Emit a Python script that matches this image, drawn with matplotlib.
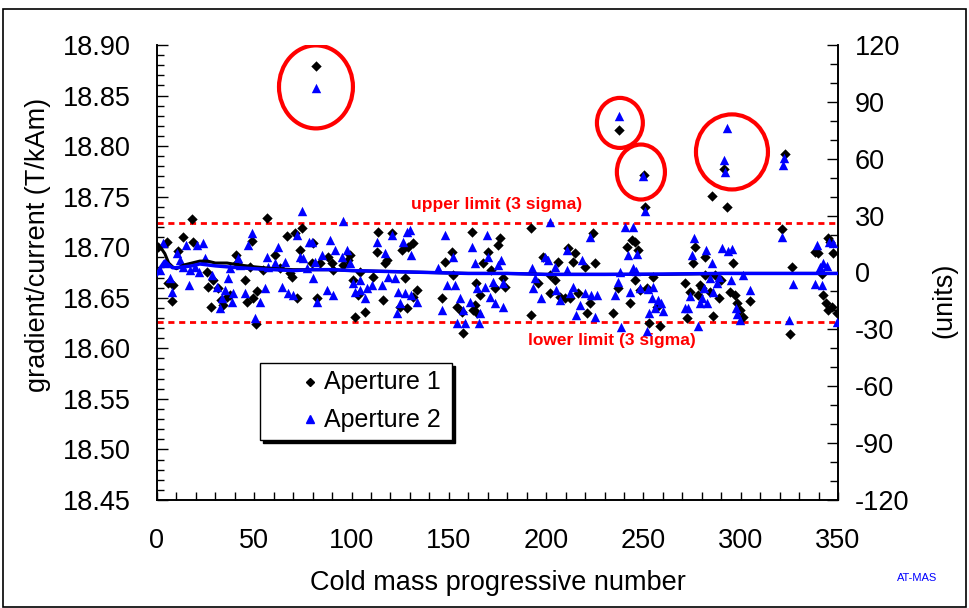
import matplotlib
matplotlib.use("Agg")
import matplotlib.pyplot as plt
from matplotlib.patches import Ellipse, Rectangle
from matplotlib.lines import Line2D

plt.rcParams['font.family'] = ['Liberation Sans', 'DejaVu Sans']
plt.rcParams['axes.unicode_minus'] = False

# ---- data (right-axis units) ----
x1 = [0.7, 5, 17.8, 13.5, 18.7, 11, 5.8, 8.4, 7.5, 25.5, 26.4, 27.7, 29, 31.5, 32.7, 33.7, 35.8, 37.5,
      40.6, 41.3, 45.2, 46.1, 47.8, 48.6, 51.2, 50.9, 49.5, 54.6, 56.7, 60.6, 63.2, 66.6, 68.3, 69.2,
      71.8, 73.5, 74.3, 70.9, 79.5, 82,
      80.3, 83.7, 88, 89.7, 90.6, 95.7, 98.3, 99.2, 104.3, 100.5, 103.4, 106.9, 101.7, 111.1, 112.9,
      113.7, 117.1, 116.3, 118, 120.6, 124.9, 125.7, 128.3, 127.4, 129.1, 131.7, 133.4, 131.7, 146.3,
      148, 151.4, 152.3, 154, 156.5, 157.4, 161.7, 162.5, 164.3,
      164.2, 165.9, 163.4, 167.7, 170.2, 171.9, 173.6, 175.4, 176.2, 177.9, 178.8, 192.1, 192.1, 195.9,
      198.5, 201.9, 201.9, 204.5, 206.2, 207, 209.6, 211.3, 212.2, 213.9, 214.8, 216.5, 219.9, 220.8,
      222.5, 224.2, 225, 234.5, 237, 241.3, 243, 243.9, 245.6, 245.6, 247.3,
      248.2, 250.8, 251.7, 253, 254.7, 258.5, 256.8, 285, 292.8, 271.4, 272.2, 274, 275.6, 276.5,
      278.2, 279, 280, 281.6, 281.6, 284.2, 285.6, 286.8, 289, 289.7, 294.5, 295.9, 297.1, 298, 299.6,
      301.3, 304.8, 321, 326.5, 325.3, 338.2, 339.9, 341.6, 342.1, 343.8, 345, 345.9, 345, 346.7,
      347.6, 349.6,
      81.7, 237.4, 250.3, 291.4, 322.7]
u1 = [13.6, 16.3, 28, 18.6, 16.1, 11.5, -5.7, -6.6, -15, 0.5, -7.5, -18, -3.9, -8.3, -14.5, -17.1, -12.7, -11.9,
      9.2, 4.8, -3.9, -15.4, 3.1, 16.6, -9.7, -27.1, -13.6, 1.3, 28.6, 9.2, 2.2, 19.3, 0, -2.2,
      -13.6, 11.9, 23.3, 20.7, 4.8, -13.6,
      15.4, 4.8, 8.4, 4.8, 1.3, 4, 6.6, 9.2, 0.5, -3.9, -11.9, -20.6, -23.3, -2.2, 11,
      21.6, 4.8, -14.5, 6.6, 20.7, -18, 11.9, -18.9, -3.1, 13.6, 15.4, -9.2, -12.7, -13.6,
      5.7, 11, -1.3, -18, -20.6, -32.1, 21.6, -19.8, -21.5,
      -5.7, -11.9, -17.1, 4.8, 11, 1.3, -8.3, 14.5, 18, -3.1, -7.5, 23.3, -22.4, -5.7,
      8.4, -1.3, -11, -3.9, 5.7, -12.7, -13.6, 12.8, -13.6, 5.7, 10.1, -11, 3.1, -21.5,
      -16.2, 20.7, 4.8, -21.5, -8.3, 13.6, -16.2, 17.2, 16.3, -3.9, 11.9,
      -9.2, 34.7, -8.3, -26.4, -2.5, -28.2, -18, 40.4, 34.4, -5.7, -24.2, -10.1, 4.8, 13.6,
      -11.9, -6.6, -8.3, 8.4, -1.3, -10.1, -22.9, -1.3, -13.6, -3.9, -10.1, 4.8, -11.9, -15.9, -19.8,
      -23.3, -14.8, 22.8, 3.1, -32.4, 11, 10.1, -0.8, -11.9, -16.2, 18, 16.3, -19.8, -18,
      10.1, -21.2,
      108.9, 75.1, 51.4, 54.6, 62.5]

x2 = [3.3, 1.5, 4.1, 6.7, 7.5, 10.1, 11.8, 14.9, 13.5, 16.6, 17, 19.5, 20.4, 21.8, 23.8, 24.7, 28.1, 30.7,
      33.2, 32.4, 35, 36.7, 37.5, 39.2, 38.4, 41.8, 42.7, 45.2, 46.9, 48.6, 50.4, 52.9, 55.5, 56.4,
      57.2, 60.6, 62.4, 64.1, 65.8, 67.5, 70.1, 71.8, 73.5, 75.2, 74.3, 76.9, 78.3,
      79.5, 81.2, 80.3, 82, 84.6, 87.2, 88.9, 91.4, 90.6, 94.9, 95.4, 97.4, 99.2, 100.9, 101.7, 104.3,
      104.3, 106.9, 107.7, 110.3, 112.9, 115.4, 117.1, 118.9, 120.6, 122.3, 124, 123.1, 124.9, 126.6,
      128.3, 127.4, 130, 130.8, 130.8, 133.4, 144.5, 146.3, 148, 148.8, 152.3, 153.1, 155.7, 157.4,
      154, 158.3, 161.7, 163.4, 160.8, 164.3,
      165.9, 165.6, 168.5, 169.4, 170.2, 171.1, 172.8, 173.6, 175.4, 177, 177.9, 177.9, 192.5, 193.3,
      194.2, 197.6, 199.3, 201.1, 201.9, 204.5, 205.3, 207, 210.5, 210.5, 212.2, 213.9, 215.6, 217.3,
      218.2, 219.9, 222.5, 223.3, 225, 225.9, 235.3, 237, 238.7, 237.9, 240.5, 244.7, 242.2, 244.7,
      246.9, 246.2, 243.1, 248.2, 250.8, 252.5, 254.7, 254.2, 255.9, 257.7, 258.9, 259.9, 253, 252,
      271.4, 273.1, 274, 274.8, 276.2, 278.2, 279, 280, 281.1, 282.2, 282.8, 284.2, 285.1, 285.9, 288,
      289, 290.2, 293.6, 295.3, 294.8, 297.6, 298.3, 299.6, 301, 304.8, 321, 326.7, 325, 338.2, 339.4,
      340.7, 342.5, 344.2, 345.5, 347.6, 341.6, 349.6,
      81.7, 237.4, 249.7, 292.9, 291.4, 291.9, 322.2, 321.7]
u2 = [15.4, 1.3, 4.8, -3.1, -10.1, 10.1, 6.6, 14.5, 3.1, -6.6, 1.3, 3.1, 14.5, 0.5, 15.4, 7.5, -1.3, -7.5,
      -13.6, -18.9, -9.2, -3.1, 2.2, -11, -15.4, 7.5, 4, -11, 14.5, 21, -24.2, -15.4, -8.3, 8.4,
      3.1, 4.8, 13.6, -7.5, 5.7, -11, -11.9, 19.8, 8.4, 7.5, 32.6, 2.2, 16.3,
      16.3, 5.7, -3.1, -15.4, 9.2, -9.2, 17.2, 11.9, -11.9, 8.4, 27.4, 11.9, 4.8, -5.7, -10.1, -3.9,
      -9.2, -13.6, -8.3, -6.6, 16.3, -6.6, 10.1, -2.2, 19.8, -3.1, -10.1, -21.5, -16.2, 16.3,
      21.6, -11, 22.4, 9.2, -11.9, -15.4, 2.2, -19.8, 19.8, -6.6, 8.4, -6.6, -13.6, -19.8,
      -26.8, -26.8, 13.6, 4.8, -15.4, -8.3,
      -21.5, -26.8, -7.5, 19.8, 8.4, -12.7, -4.8, -16.2, 3.9, 6.6, -5.7, -18, 2.2, -8.3,
      -3.1, -13.6, 8.4, 6.6, 26.8, 3.1, -9.2, -14.5, 11.9, 1.3, -11, -7.5, -22.4, -17.1,
      6.6, -11, 18.9, -11.9, -23.3, -11.9, -11.9, -4.8, -28.6, 0.5, 24.2, 24.2, 9.2, 2.2,
      9.8, 1, -10.1, -8.3, 32.6, -8.9, -7.8, -13.6, -18.9, -14.5, -16.2, -20.1, -21.2, -30.7,
      -18.9, -18.9, -12.4, 9.2, 18, -28.2, -15.9, -13.6, -8.3, 11.9, -15.9, -3.1, 4.8, -10.1, -5.3,
      -2.5, 12.8, 11.5, 12.2, -3.9, -18.9, -21.9, -25, -1.3, -9.2, 18.6, -6, -25, -6, 14.5,
      2.7, 4.8, 3.4, 16.3, 15.4, -6.6, -25.9,
      97.3, 82.5, 50.9, 76.2, 59.3, 53, 60.4, 56.7]

# running averages
avg_x = [0, 2, 4, 6, 8, 10, 14, 18, 22, 26, 30, 36, 42, 50, 60, 70, 80, 90, 100, 120, 140, 160, 180,
         200, 230, 260, 290, 320, 350]
avg1 = [15, 13, 10, 5, 3, 2, 4, 5, 6, 6, 5, 5, 4, 3, 2, 1.5, 1.5, 1.5, 1, 0.5, 0, -0.5, -0.5, -1, -1,
        -1, -0.5, -0.5, -0.5]
avg2 = [-1, 3, 6, 4, 2.5, 2.5, 3, 3.5, 4.5, 4, 3.5, 3, 2.5, 2, 1.5, 1.0, 1.5, 1.5, 1.0, 0.5, 0, -0.5,
        -0.5, -1, -1, -0.8, -0.5, -0.5, -0.5]

limit_upper = 26
limit_lower = -26

# circled outliers: (x, units, width, height)
circ_x = [81.7, 237.9, 248.7, 295.5]
circ_u = [97.9, 78.9, 53.0, 63.6]
circ_w = [38.0, 23.6, 24.7, 37.0]
circ_h = [43.8, 26.4, 29.0, 39.6]

left_ticks = [18.45, 18.50, 18.55, 18.60, 18.65, 18.70, 18.75, 18.80, 18.85, 18.90]
right_ticks = [-120, -90, -60, -30, 0, 30, 60, 90, 120]
x_ticks = [0, 50, 100, 150, 200, 250, 300, 350]
legend_labels = ["Aperture 1", "Aperture 2"]

# ---- figure ----
W, H = 969, 608
fig = plt.figure(figsize=(W/100, H/100), dpi=100)
ax = fig.add_axes([157/W, 1-500/H, (838-157)/W, (500-45)/H])
ax2 = ax.twinx()

ax.set_xlim(0, 350)
ax.set_ylim(18.45, 18.90)
ax2.set_ylim(-120, 120)

ax.set_yticks(left_ticks)
ax.set_yticklabels([f"{v:.2f}" for v in left_ticks])
ax.set_yticks([18.45 + 0.01*i for i in range(46)], minor=True)
ax2.set_yticks(right_ticks)
ax2.set_yticks(list(range(-120, 121, 10)), minor=True)
ax.set_xticks(x_ticks)
ax.set_xticks(list(range(0, 351, 10)), minor=True)

fs = 19.5
ax.tick_params(axis='y', which='major', direction='in', length=8, width=1, labelsize=fs, pad=19)
ax.tick_params(axis='y', which='minor', direction='in', length=5, width=1)
ax.tick_params(axis='x', which='both', direction='in', length=6, width=1, labelsize=fs, pad=20)
ax2.tick_params(axis='y', which='major', direction='in', length=8, width=1, labelsize=fs, pad=12)
ax2.tick_params(axis='y', which='minor', direction='in', length=6, width=1)

for a in (ax, ax2):
    a.spines['top'].set_visible(False)
    for s in ('left', 'right', 'bottom'):
        a.spines[s].set_linewidth(1.2)

ax.set_xlabel("Cold mass progressive number", fontsize=fs, labelpad=12)
ax.set_ylabel("gradient/current (T/kAm)", fontsize=fs)
ax.yaxis.set_label_coords(-106/681, (500-245)/455)
ax2.set_ylabel("(units)", fontsize=fs)
ax2.yaxis.set_label_coords(1 + 93/681, (500-300)/455)

# limits
ax2.axhline(limit_upper, color='#FF0000', lw=2.0, linestyle=(0, (2.2, 1.7)), zorder=2)
ax2.axhline(limit_lower, color='#FF0000', lw=2.0, linestyle=(0, (2.2, 1.7)), zorder=2)
ax2.text(174.7, limit_upper + 6, "upper limit (3 sigma)", color='#FF0000', fontsize=12.5,
         fontweight='bold', ha='center', va='bottom')
ax2.text(233.8, limit_lower - 6, "lower limit (3 sigma)", color='#FF0000', fontsize=12.5,
         fontweight='bold', ha='center', va='top')

# points
ax2.scatter(x1, u1, marker='D', s=28, color='black', linewidths=0, zorder=3)
ax2.scatter(x2, u2, marker='^', s=46, color='#0000FF', linewidths=0, zorder=4)

ax2.plot(avg_x, avg1, color='black', lw=2.2, zorder=5)
ax2.plot(avg_x, avg2, color='#0000FF', lw=2.5, zorder=6)

for cx, cu, cw, ch in zip(circ_x, circ_u, circ_w, circ_h):
    ax2.add_patch(Ellipse((cx, cu), cw, ch, fill=False, edgecolor='#FF0000', lw=3, zorder=7))

# legend (drawn manually in figure pixel coordinates)
def fx(px):
    return px / W

def fy(py):
    return 1 - py / H

fig.add_artist(Rectangle((fx(263), fy(443)), (452-260)/W, (440-363)/H, transform=fig.transFigure,
                         facecolor='black', edgecolor='black', lw=1, zorder=20))
fig.add_artist(Rectangle((fx(260), fy(440)), (452-260)/W, (440-363)/H, transform=fig.transFigure,
                         facecolor='white', edgecolor='black', lw=1, zorder=21))
fig.add_artist(Line2D([fx(310)], [fy(382)], marker='D', markersize=4.2, color='black', lw=0,
                      transform=fig.transFigure, zorder=22))
fig.add_artist(Line2D([fx(310)], [fy(419)], marker='^', markersize=5.5, color='#0000FF', lw=0,
                      transform=fig.transFigure, zorder=22))
fig.text(fx(324), fy(382), legend_labels[0], fontsize=18, ha='left', va='center', zorder=23)
fig.text(fx(324), fy(420), legend_labels[1], fontsize=18, ha='left', va='center', zorder=23)

fig.text(917/W, 1-578/H, "AT-MAS", color='#0000FF', fontsize=8, ha='center', va='center')

fig.add_artist(Rectangle((3/W, 0.002), 963/W, 1-9/H-0.002, transform=fig.transFigure,
                         fill=False, edgecolor='black', lw=1.2))

fig.savefig("out.png", dpi=100)
